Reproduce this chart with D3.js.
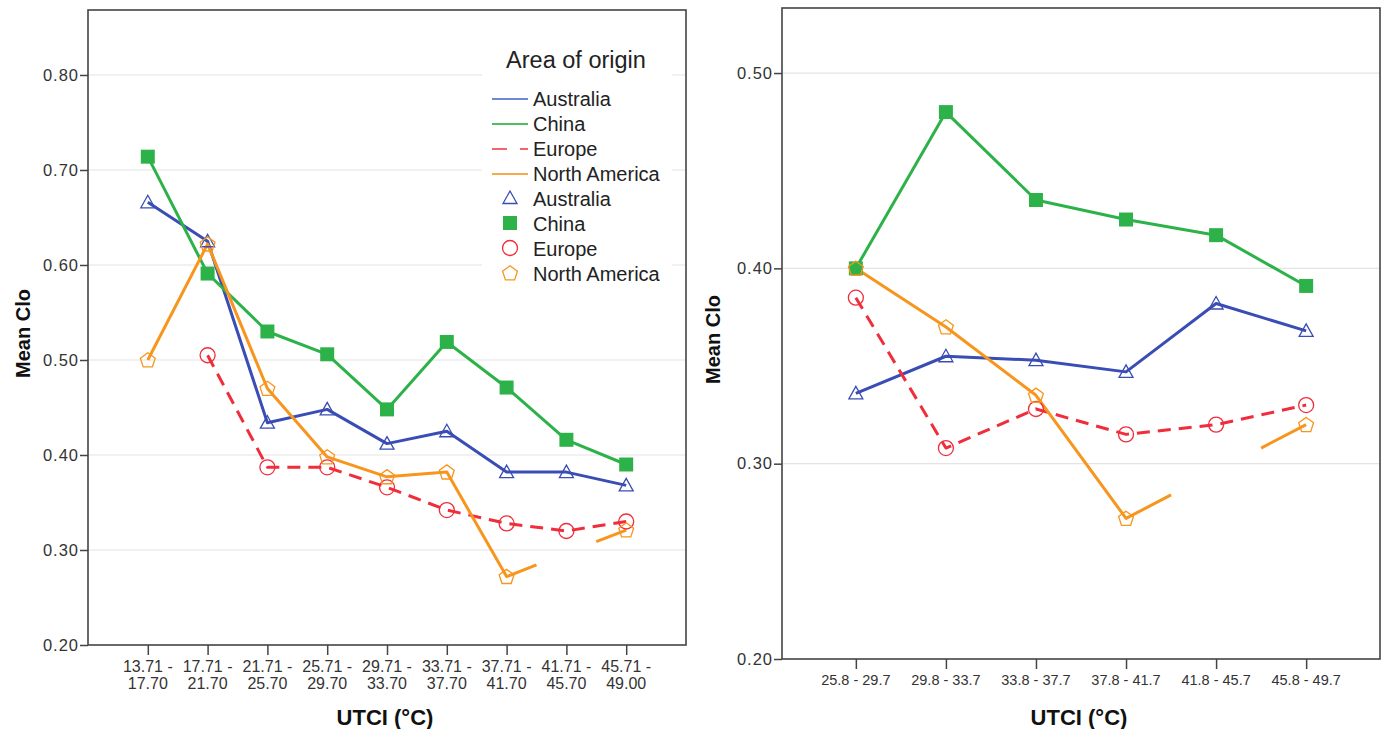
<!DOCTYPE html>
<html>
<head>
<meta charset="utf-8">
<script src="https://cdn.jsdelivr.net/npm/d3@7"></script>
<style>
  html, body { margin: 0; padding: 0; background: #fff; }
  svg { display: block; font-family: "Liberation Sans", Arial, sans-serif; }
</style>
</head>
<body>
<svg id="chart" width="1387" height="729"></svg>
<script>
// ---- Data: mean clothing insulation by UTCI band and area of origin ----
const seriesNames = ["Australia", "China", "Europe", "North America"];

// Left panel: fine UTCI bands
const leftCategories = ["13.71 -|17.70", "17.71 -|21.70", "21.71 -|25.70", "25.71 -|29.70",
  "29.71 -|33.70", "33.71 -|37.70", "37.71 -|41.70", "41.71 -|45.70", "45.71 -|49.00"];
const leftAustralia    = [0.666, 0.625, 0.434, 0.448, 0.412, 0.425, 0.382, 0.382, 0.368];
const leftChina        = [0.714, 0.591, 0.530, 0.506, 0.448, 0.519, 0.471, 0.416, 0.390];
const leftEurope       = [null, 0.505, 0.387, 0.387, 0.366, 0.342, 0.328, 0.320, 0.330];
const leftNorthAmerica = [0.500, 0.622, 0.470, 0.398, 0.377, 0.382, 0.272, null, 0.321];
const leftTicks = [0.20, 0.30, 0.40, 0.50, 0.60, 0.70, 0.80];

// Right panel: warmer UTCI bands
const rightCategories = ["25.8 - 29.7", "29.8 - 33.7", "33.8 - 37.7", "37.8 - 41.7", "41.8 - 45.7", "45.8 - 49.7"];
const rightAustralia    = [0.336, 0.355, 0.353, 0.347, 0.382, 0.368];
const rightChina        = [0.400, 0.480, 0.435, 0.425, 0.417, 0.391];
const rightEurope       = [0.385, 0.308, 0.328, 0.315, 0.320, 0.330];
const rightNorthAmerica = [0.400, 0.370, 0.335, 0.272, null, 0.320];
const rightTicks = [0.20, 0.30, 0.40, 0.50];

// ---- Styles ----
const lineColors = { "Australia": "#3a4db4", "China": "#2db24a", "Europe": "#ef2d3b", "North America": "#f7951d" };
const legendLineColors = { "Australia": "#6f88d4", "China": "#4cc060", "Europe": "#f2656d", "North America": "#f8aa4a" };
const dashes = { "Australia": null, "China": null, "Europe": "13,8", "North America": null };

const svg = d3.select("#chart");

// marker shape generators (path strings centred at 0,0)
function markerPath(name) {
  if (name === "Australia") {
    return "M0,-7 L7,5.5 L-7,5.5 Z";
  }
  if (name === "China") {
    return "M-7,-7 H7 V7 H-7 Z";
  }
  if (name === "Europe") {
    return d3.arc()({ innerRadius: 0, outerRadius: 7.5, startAngle: 0, endAngle: 2 * Math.PI });
  }
  // pentagon
  const r = 7.8;
  const pts = d3.range(5).map(i => {
    const a = -Math.PI / 2 + i * 2 * Math.PI / 5;
    return [r * Math.cos(a), r * Math.sin(a) + 0.6];
  });
  return "M" + pts.map(p => p.join(",")).join("L") + "Z";
}
function markerStyle(sel, name) {
  if (name === "China") {
    sel.attr("fill", lineColors[name]).attr("stroke", "none");
  } else {
    sel.attr("fill", "none").attr("stroke", lineColors[name]).attr("stroke-width", 1.3);
  }
}

function drawPanel(cfg) {
  const g = svg.append("g");
  const x = d3.scalePoint().domain(d3.range(cfg.categories.length))
    .range([cfg.left, cfg.right]).padding(cfg.pad);
  const y = d3.scaleLinear().domain(cfg.yDomain).range([cfg.bottom, cfg.top]);

  // gridlines
  g.append("g").selectAll("line").data(cfg.ticks.slice(1)).join("line")
    .attr("x1", cfg.left).attr("x2", cfg.right)
    .attr("y1", d => y(d)).attr("y2", d => y(d))
    .attr("stroke", "#e4e4e4").attr("stroke-width", 1.2);

  // series lines, with a broken connector across a single missing value
  const lineGen = d3.line().x(d => d[0]).y(d => d[1]);
  cfg.series.forEach(s => {
    const vals = s.values;
    const segs = [];
    for (let i = 0; i < vals.length - 1; i++) {
      if (vals[i] == null) continue;
      if (vals[i + 1] != null) {
        segs.push([[x(i), y(vals[i])], [x(i + 1), y(vals[i + 1])]]);
      } else if (i + 2 < vals.length && vals[i + 2] != null) {
        const a = [x(i), y(vals[i])], b = [x(i + 2), y(vals[i + 2])];
        const q = t => [a[0] + (b[0] - a[0]) * t, a[1] + (b[1] - a[1]) * t];
        segs.push([a, q(0.25)]);
        segs.push([q(0.75), b]);
      }
    }
    // join consecutive full segments into polylines
    const paths = [];
    segs.forEach(sg => {
      const last = paths[paths.length - 1];
      if (last && last[last.length - 1][0] === sg[0][0] && last[last.length - 1][1] === sg[0][1]) {
        last.push(sg[1]);
      } else {
        paths.push([sg[0], sg[1]]);
      }
    });
    g.append("g").selectAll("path").data(paths).join("path")
      .attr("d", lineGen)
      .attr("fill", "none")
      .attr("stroke", lineColors[s.name])
      .attr("stroke-width", 3)
      .attr("stroke-linejoin", "round")
      .attr("stroke-dasharray", dashes[s.name]);
  });

  // markers
  cfg.series.forEach(s => {
    const pts = s.values.map((v, i) => ({ v, i })).filter(d => d.v != null);
    const m = g.append("g").selectAll("path").data(pts).join("path")
      .attr("d", markerPath(s.name))
      .attr("transform", d => `translate(${x(d.i)},${y(d.v)})`);
    markerStyle(m, s.name);
  });

  // frame
  g.append("rect")
    .attr("x", cfg.left).attr("y", cfg.top)
    .attr("width", cfg.right - cfg.left).attr("height", cfg.bottom - cfg.top)
    .attr("fill", "none").attr("stroke", "#444").attr("stroke-width", 1.6);

  // y axis
  const yAxis = g.append("g").attr("transform", `translate(${cfg.left},0)`)
    .call(d3.axisLeft(y).tickValues(cfg.ticks).tickFormat(d3.format(".2f")).tickSize(8).tickPadding(1));
  yAxis.select(".domain").remove();
  yAxis.selectAll(".tick line").attr("stroke", "#444").attr("stroke-width", 1.5);
  yAxis.selectAll(".tick text").attr("fill", "#333")
    .style("font-size", "16.5px").style("letter-spacing", "1px");

  // x axis
  const xAxis = g.append("g").attr("transform", `translate(0,${cfg.bottom})`)
    .call(d3.axisBottom(x).tickSize(10).tickFormat(() => ""));
  xAxis.select(".domain").remove();
  xAxis.selectAll(".tick line").attr("stroke", "#444").attr("stroke-width", 1.5);
  const lbl = g.append("g").selectAll("text").data(cfg.categories).join("text")
    .attr("x", (d, i) => x(i))
    .attr("y", cfg.bottom + cfg.labelOffset)
    .attr("text-anchor", "middle")
    .attr("fill", "#333")
    .style("font-size", cfg.xLabelSize + "px");
  lbl.each(function (d) {
    const parts = d.split("|");
    d3.select(this).selectAll("tspan").data(parts).join("tspan")
      .attr("x", d3.select(this).attr("x"))
      .attr("dy", (p, k) => k === 0 ? 0 : 17)
      .text(p => p);
  });

  // axis titles
  g.append("text")
    .attr("transform", `translate(${cfg.yTitleX},${(cfg.top + cfg.bottom) / 2 + 6}) rotate(-90)`)
    .attr("text-anchor", "middle").attr("font-weight", "bold")
    .style("font-size", "20px").attr("fill", "#111").text("Mean Clo");
  g.append("text")
    .attr("x", (cfg.left + cfg.right) / 2 - 2).attr("y", 725)
    .attr("text-anchor", "middle").attr("font-weight", "bold")
    .style("font-size", "22px").attr("fill", "#111").text("UTCI (°C)");

  return { g, x, y };
}

// ---- Left panel ----
const leftPanel = drawPanel({
  left: 88, right: 686, top: 10, bottom: 645,
  pad: 1, yDomain: [0.20, 0.8684], ticks: leftTicks,
  categories: leftCategories, labelOffset: 27, xLabelSize: 16, yTitleX: 30,
  series: [
    { name: "Australia", values: leftAustralia },
    { name: "China", values: leftChina },
    { name: "Europe", values: leftEurope },
    { name: "North America", values: leftNorthAmerica }
  ]
});

// ---- Right panel ----
drawPanel({
  left: 782, right: 1380, top: 8, bottom: 659,
  pad: 0.82, yDomain: [0.20, 0.5333], ticks: rightTicks,
  categories: rightCategories, labelOffset: 26, xLabelSize: 14.5, yTitleX: 720,
  series: [
    { name: "Australia", values: rightAustralia },
    { name: "China", values: rightChina },
    { name: "Europe", values: rightEurope },
    { name: "North America", values: rightNorthAmerica }
  ]
});

// ---- Legend (left panel) ----
const lg = leftPanel.g.append("g");
lg.append("rect").attr("x", 482).attr("y", 38).attr("width", 190).attr("height", 252)
  .attr("fill", "#fff");
lg.append("text").attr("x", 576).attr("y", 68).attr("text-anchor", "middle")
  .style("font-size", "23.5px").attr("fill", "#222").text("Area of origin");

const rowY = i => 99 + i * 25;
seriesNames.forEach((n, i) => {
  lg.append("line").attr("x1", 492).attr("x2", 528)
    .attr("y1", rowY(i)).attr("y2", rowY(i))
    .attr("stroke", legendLineColors[n]).attr("stroke-width", 2)
    .attr("stroke-dasharray", n === "Europe" ? "15,13" : null);
  lg.append("text").attr("x", 533).attr("y", rowY(i) + 7)
    .style("font-size", "20px").attr("fill", "#222").text(n);
});
seriesNames.forEach((n, i) => {
  const m = lg.append("path").attr("d", markerPath(n))
    .attr("transform", `translate(510,${rowY(i + 4) - 1})`);
  markerStyle(m, n);
  lg.append("text").attr("x", 533).attr("y", rowY(i + 4) + 7)
    .style("font-size", "20px").attr("fill", "#222").text(n);
});
</script>
</body>
</html>
